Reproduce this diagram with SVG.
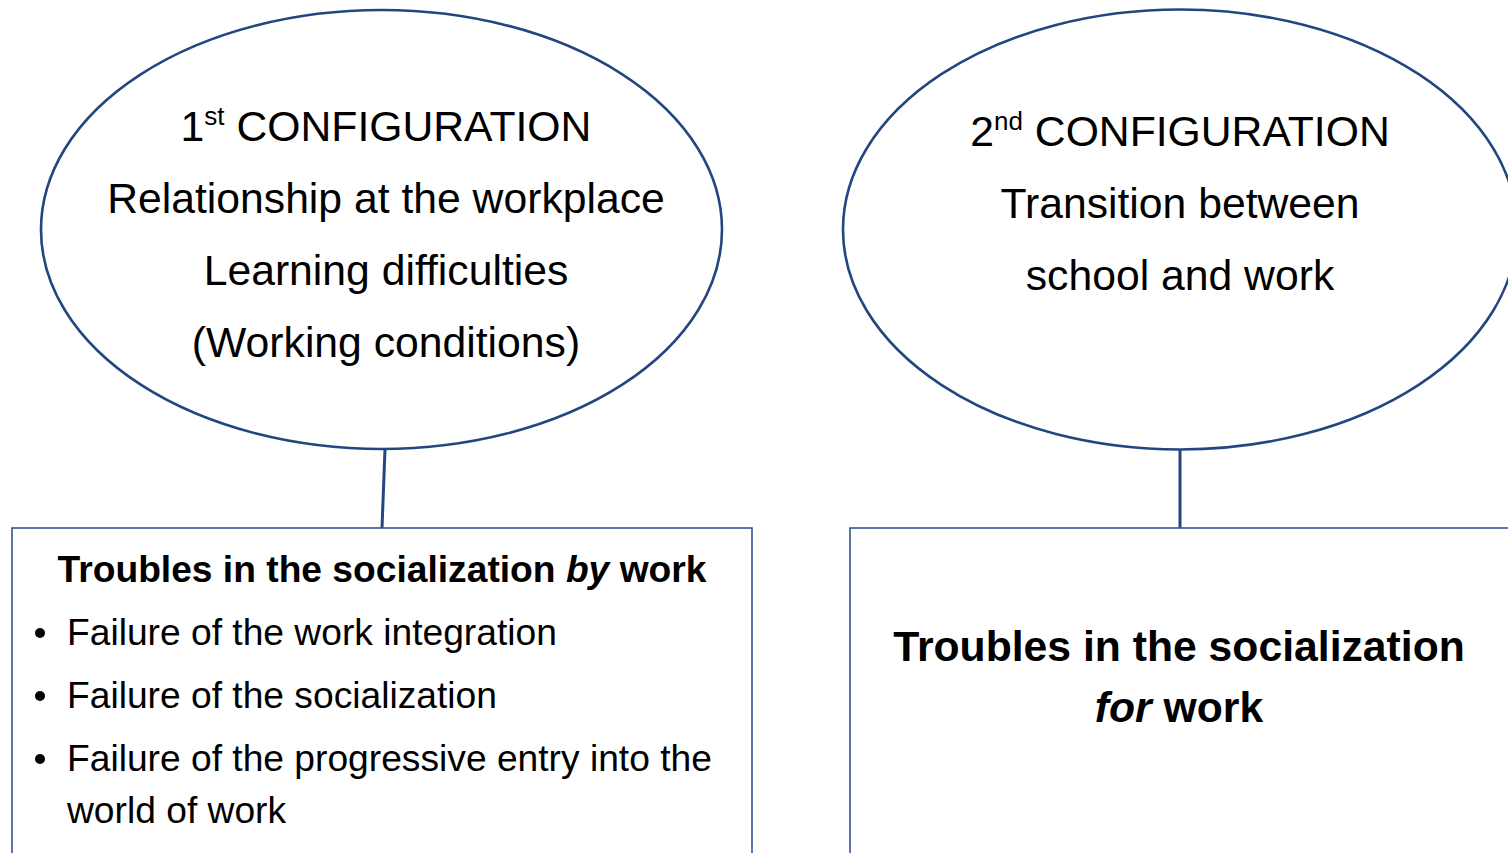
<svg xmlns="http://www.w3.org/2000/svg" width="1508" height="853" viewBox="0 0 1508 853">
  <style>
    .oval { fill: #ffffff; stroke: #23467F; stroke-width: 2.6; }
    .box { fill: #ffffff; stroke: #2F5597; stroke-width: 1.6; }
    .link { stroke: #23467F; stroke-width: 3; fill: none; }
    .t { font-family: "Liberation Sans", Arial, sans-serif; fill: #000000; }
    .big { font-size: 42.7px; }
    .mid { font-size: 37.2px; }
    .bold { font-weight: bold; }
    .sup { font-size: 26px; }
  </style>
  <rect width="1508" height="853" fill="#ffffff"/>

  <!-- connectors between configuration ovals and their boxes -->
  <g id="connectors">
    <line class="link" x1="385" y1="449" x2="382" y2="528"/>
    <line class="link" x1="1180" y1="450" x2="1180" y2="528"/>
  </g>

  <!-- first configuration -->
  <g id="config1">
    <ellipse class="oval" cx="381.5" cy="229.5" rx="340.5" ry="219.5"/>
    <text class="t big" x="386" y="141" text-anchor="middle">1<tspan class="sup" dy="-16">st</tspan><tspan dy="16"> CONFIGURATION</tspan></text>
    <text class="t big" x="386" y="213" text-anchor="middle">Relationship at the workplace</text>
    <text class="t big" x="386" y="285" text-anchor="middle">Learning difficulties</text>
    <text class="t big" x="386" y="357" text-anchor="middle">(Working conditions)</text>
  </g>

  <!-- second configuration -->
  <g id="config2">
    <ellipse class="oval" cx="1180" cy="229.5" rx="337" ry="220"/>
    <text class="t big" x="1180" y="146" text-anchor="middle">2<tspan class="sup" dy="-16">nd</tspan><tspan dy="16"> CONFIGURATION</tspan></text>
    <text class="t big" x="1180" y="218" text-anchor="middle">Transition between</text>
    <text class="t big" x="1180" y="290" text-anchor="middle">school and work</text>
  </g>

  <!-- troubles in the socialization by work -->
  <g id="troubles-by">
    <rect class="box" x="12" y="528" width="740" height="340"/>
    <text class="t mid bold" x="382" y="582" text-anchor="middle">Troubles in the socialization <tspan font-style="italic">by</tspan> work</text>
    <circle cx="40" cy="633" r="5"/>
    <text class="t mid" x="67" y="645">Failure of the work integration</text>
    <circle cx="40" cy="696" r="5"/>
    <text class="t mid" x="67" y="708">Failure of the socialization</text>
    <circle cx="40" cy="759" r="5"/>
    <text class="t mid" x="67" y="771">Failure of the progressive entry into the</text>
    <text class="t mid" x="67" y="823">world of work</text>
  </g>

  <!-- troubles in the socialization for work -->
  <g id="troubles-for">
    <rect class="box" x="850" y="528" width="700" height="340"/>
    <text class="t big bold" x="1179" y="661" text-anchor="middle">Troubles in the socialization</text>
    <text class="t big bold" x="1179" y="722" text-anchor="middle"><tspan font-style="italic">for</tspan> work</text>
  </g>
</svg>
